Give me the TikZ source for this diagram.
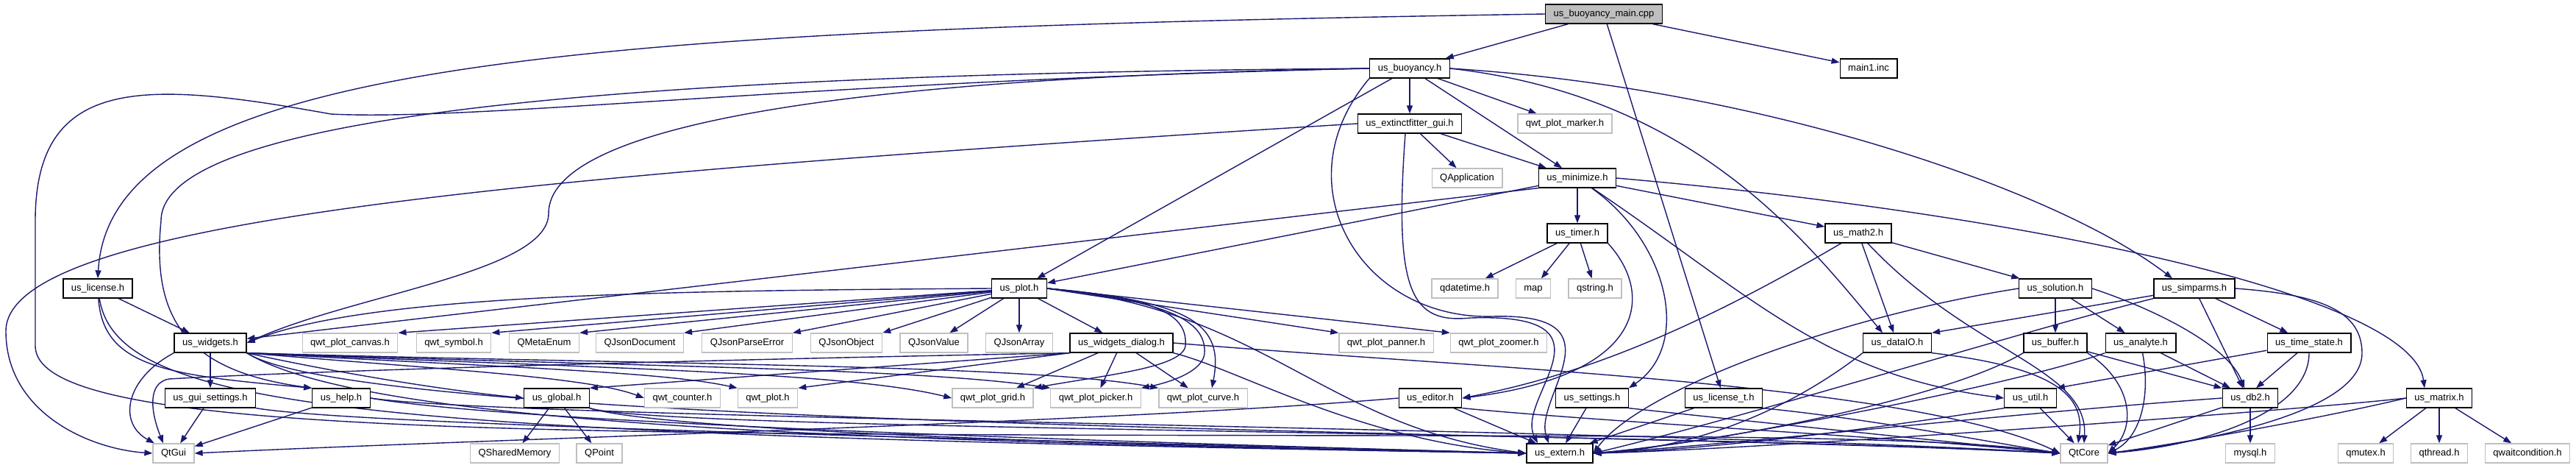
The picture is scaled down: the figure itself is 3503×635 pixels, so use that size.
\documentclass[tikz,border=0pt]{standalone}
\usepackage{fontspec}
\setmainfont{Liberation Sans}
\usepackage{xcolor}
\definecolor{edgeblue}{RGB}{25,25,112}
\definecolor{grey75}{RGB}{191,191,191}
\usepackage{tikz}
\usetikzlibrary{arrows.meta}
\pgfdeclarelayer{background}
\pgfsetlayers{background,main}

\begin{document}
\begin{tikzpicture}[
  x=1pt, y=-1pt,
  doc/.style={rectangle, draw=black, line width=1.3pt, fill=white, minimum height=26pt, inner xsep=11pt, inner ysep=0pt, text height=9.5pt, text depth=2.8pt, font=\fontsize{13}{15}\selectfont},
  ext/.style={doc, draw=grey75},
  root/.style={doc, fill=grey75},
  flow/.style={-{Triangle[length=11pt,width=8pt]}, line width=1.4pt, draw=edgeblue}
]
\useasboundingbox (0,0) rectangle (3503,635);

% Nodes
\node[root] (main) at (2181,19) {us\_buoyancy\_main.cpp};
\node[doc] (buoy) at (1917,93) {us\_buoyancy.h};
\node[doc] (maininc) at (2541,93) {main1.inc};
\node[doc] (fitter) at (1917,168) {us\_extinctfitter\_gui.h};
\node[ext] (marker) at (2128,168) {qwt\_plot\_marker.h};
\node[ext] (qapp) at (1995,242) {QApplication};
\node[doc] (minimize) at (2145,242) {us\_minimize.h};
\node[doc] (timer) at (2145,317) {us\_timer.h};
\node[doc] (math2) at (2527,317) {us\_math2.h};
\node[doc] (license) at (133,392) {us\_license.h};
\node[doc] (plot) at (1386,392) {us\_plot.h};
\node[ext] (qdatetime) at (1992,392) {qdatetime.h};
\node[ext] (map) at (2085,392) {map};
\node[ext] (qstring) at (2169,392) {qstring.h};
\node[doc] (solution) at (2795,392) {us\_solution.h};
\node[doc] (simparms) at (2984,392) {us\_simparms.h};
\node[doc] (widgets) at (286,466) {us\_widgets.h};
\node[ext] (canvas) at (476,466) {qwt\_plot\_canvas.h};
\node[ext] (symbol) at (617,466) {qwt\_symbol.h};
\node[ext] (metaenum) at (740,466) {QMetaEnum};
\node[ext] (jsondoc) at (870,466) {QJsonDocument};
\node[ext] (jsonerr) at (1016,466) {QJsonParseError};
\node[ext] (jsonobj) at (1151,466) {QJsonObject};
\node[ext] (jsonval) at (1270,466) {QJsonValue};
\node[ext] (jsonarr) at (1386,466) {QJsonArray};
\node[doc] (wdialog) at (1525,466) {us\_widgets\_dialog.h};
\node[ext] (panner) at (1885,466) {qwt\_plot\_panner.h};
\node[ext] (zoomer) at (2038,466) {qwt\_plot\_zoomer.h};
\node[doc] (dataio) at (2580,466) {us\_dataIO.h};
\node[doc] (buffer) at (2795,466) {us\_buffer.h};
\node[doc] (analyte) at (2911,466) {us\_analyte.h};
\node[doc] (timestate) at (3140,466) {us\_time\_state.h};
\node[doc] (guiset) at (286,541) {us\_gui\_settings.h};
\node[doc] (help) at (464,541) {us\_help.h};
\node[doc] (global) at (757,541) {us\_global.h};
\node[ext] (counter) at (928,541) {qwt\_counter.h};
\node[ext] (qwtplot) at (1044,541) {qwt\_plot.h};
\node[ext] (grid) at (1350,541) {qwt\_plot\_grid.h};
\node[ext] (picker) at (1490,541) {qwt\_plot\_picker.h};
\node[ext] (curve) at (1636,541) {qwt\_plot\_curve.h};
\node[doc] (editor) at (1945,541) {us\_editor.h};
\node[doc] (settings) at (2165,541) {us\_settings.h};
\node[doc] (licenset) at (2344,541) {us\_license\_t.h};
\node[doc] (util) at (2761,541) {us\_util.h};
\node[doc] (db2) at (3060,541) {us\_db2.h};
\node[doc] (matrix) at (3317,541) {us\_matrix.h};
\node[ext] (qtgui) at (236,616) {QtGui};
\node[ext] (shmem) at (700,616) {QSharedMemory};
\node[ext] (qpoint) at (815,616) {QPoint};
\node[doc] (extern) at (2121,616) {us\_extern.h};
\node[ext] (qtcore) at (2834,616) {QtCore};
\node[ext] (mysql) at (3060,616) {mysql.h};
\node[ext] (qmutex) at (3217,616) {qmutex.h};
\node[ext] (qthread) at (3317,616) {qthread.h};
\node[ext] (qwait) at (3437,616) {qwaitcondition.h};

\begin{pgfonlayer}{background}
% Flows: us_buoyancy_main.cpp
\draw[flow] (main) -- (buoy);
\draw[flow] (main) -- (maininc);
\draw[flow] (main) -- (licenset);
\draw[flow] (main.west) .. controls (800,40) and (150,80) .. (license.north);

% Flows: us_buoyancy.h
\draw[flow] (buoy) -- (fitter);
\draw[flow] (buoy) -- (marker);
\draw[flow] (buoy) -- (minimize);
\draw[flow] (buoy) -- (plot);
\draw[flow] (buoy.west) .. controls (1150,105) and (746,170) .. (746,290) .. controls (746,370) and (480,400) .. (widgets.east);
\draw[flow] (buoy.west) .. controls (900,100) and (219,150) .. (219,300) .. controls (205,440) and (260,505) .. (help.north west);
\draw[flow] (buoy.west) .. controls (1100,110) and (650,165) .. (450,155) .. controls (200,110) and (48,100) .. (48,300) -- (48,470) .. controls (48,560) and (400,585) .. (1200,590) .. controls (2000,595) and (2600,585) .. (qtcore.west);
\draw[flow] (buoy.south west) .. controls (1740,250) and (1850,435) .. (2030,430) .. controls (2210,425) and (2085,540) .. ([xshift=-15pt]extern.north);
\draw[flow] (buoy.east) .. controls (2400,120) and (2800,260) .. ([xshift=-30pt]simparms.north);
\draw[flow] (buoy.east) .. controls (2300,130) and (2450,320) .. ([xshift=-20pt]dataio.north);

% Flows: us_extinctfitter_gui.h
\draw[flow] (fitter) -- (qapp);
\draw[flow] (fitter) -- (minimize);
\draw[flow] (fitter.west) .. controls (700,240) and (8,300) .. (8,450) .. controls (8,560) and (120,610) .. (qtgui.west);
\draw[flow] ([xshift=-6pt]fitter.south) .. controls (1895,400) and (1920,440) .. (2000,432) .. controls (2210,425) and (2060,540) .. ([xshift=-30pt]extern.north);

% Flows: us_minimize.h
\draw[flow] (minimize) -- (timer);
\draw[flow] (minimize) -- (plot);
\draw[flow] (minimize.south west) -- (widgets);
\draw[flow] (minimize) -- (math2);
\draw[flow] (minimize.east) .. controls (2750,290) and (3280,400) .. ([xshift=-20pt]matrix.north);
\draw[flow] (minimize) .. controls (2270,330) and (2300,470) .. (settings.north east);
\draw[flow] (minimize) .. controls (2380,400) and (2480,510) .. (util.west);

% Flows: us_timer.h
\draw[flow] (timer) -- (qdatetime);
\draw[flow] (timer) -- (map);
\draw[flow] (timer) -- (qstring);
\draw[flow] (timer.south east) .. controls (2250,400) and (2240,510) .. (editor.east);

% Flows: us_math2.h
\draw[flow] (math2) -- (solution);
\draw[flow] (math2) -- (dataio);
\draw[flow] (math2) .. controls (2680,480) and (2840,500) .. (qtcore.north);
\draw[flow] (math2) .. controls (2300,450) and (2150,510) .. (editor.east);

% Flows: us_plot.h
\draw[flow] (plot) -- (canvas.north east);
\draw[flow] (plot) -- (symbol.north east);
\draw[flow] (plot) -- (metaenum.north east);
\draw[flow] (plot) -- (jsondoc.north east);
\draw[flow] (plot) -- (jsonerr.north east);
\draw[flow] (plot) -- (jsonobj.north east);
\draw[flow] (plot.west) .. controls (900,395) and (500,400) .. (widgets.east);
\draw[flow] (plot) -- (jsonval);
\draw[flow] (plot) -- (jsonarr);
\draw[flow] (plot) -- (wdialog);
\draw[flow] (plot.east) .. controls (1580,405) and (1615,430) .. (1612,470) .. controls (1608,500) and (1500,510) .. (grid.north east);
\draw[flow] (plot.east) .. controls (1600,410) and (1640,440) .. (1638,480) .. controls (1636,505) and (1590,520) .. (picker.north east);
\draw[flow] (plot.east) .. controls (1620,410) and (1665,440) .. ([xshift=12pt]curve.north);
\draw[flow] (plot.east) -- (panner.north west);
\draw[flow] (plot.east) -- (zoomer.north west);
\draw[flow] (plot.east) .. controls (1720,420) and (1800,580) .. (extern.west);

% Flows: us_widgets_dialog.h
\draw[flow] (wdialog) -- (grid);
\draw[flow] (wdialog) -- (picker);
\draw[flow] (wdialog) -- (curve);
\draw[flow] (wdialog.south west) -- (global.north east);
\draw[flow] (wdialog.south west) -- (qwtplot.north east);
\draw[flow] (wdialog.south west) .. controls (900,490) and (400,505) .. (230,515) .. controls (200,520) and (205,560) .. ([xshift=-14pt]qtgui.north);
\draw[flow] (wdialog.south east) .. controls (1680,500) and (1850,600) .. (extern.west);
\draw[flow] (wdialog.east) .. controls (2000,500) and (2600,520) .. (qtcore.west);

% Flows: us_widgets.h
\draw[flow] (widgets) -- (guiset);
\draw[flow] (widgets.south west) .. controls (170,515) and (160,575) .. ([xshift=-26pt]qtgui.north);
\draw[flow] (widgets.south east) .. controls (450,505) and (600,530) .. (global.west);
\draw[flow] (widgets.south east) .. controls (600,502) and (800,512) .. (counter.west);
\draw[flow] (widgets.south east) .. controls (700,500) and (900,505) .. (qwtplot.north west);
\draw[flow] (widgets.south east) .. controls (800,500) and (1150,505) .. (grid.west);
\draw[flow] (widgets.south east) .. controls (850,498) and (1250,500) .. (picker.north west);
\draw[flow] (widgets.south east) .. controls (900,496) and (1400,495) .. (curve.north west);
\draw[flow] (widgets.south east) .. controls (500,580) and (1200,600) .. (extern.west);
\draw[flow] (widgets.south east) .. controls (500,585) and (2200,585) .. (qtcore.west);

% Flows: us_license.h
\draw[flow] (license) -- (widgets);
\draw[flow] (license) .. controls (140,500) and (230,510) .. (help.north west);
\draw[flow] (license) .. controls (160,560) and (500,590) .. (extern.west);

% Flows: us_gui_settings.h, us_help.h, us_global.h
\draw[flow] (guiset) -- (qtgui);
\draw[flow] (guiset.south east) .. controls (500,580) and (1500,600) .. (extern.west);
\draw[flow] (help) -- (qtgui);
\draw[flow] (help.east) .. controls (700,575) and (1500,600) .. (extern.west);
\draw[flow] (help.east) .. controls (700,570) and (2200,580) .. (qtcore.west);
\draw[flow] (global) -- (shmem);
\draw[flow] (global) -- (qpoint);
\draw[flow] (global.south east) .. controls (900,585) and (1500,605) .. (extern.west);
\draw[flow] (global.south east) .. controls (900,585) and (2200,585) .. (qtcore.west);

% Flows: us_editor.h, us_settings.h, us_license_t.h
\draw[flow] (editor.west) .. controls (1500,575) and (700,595) .. (qtgui.east);
\draw[flow] (editor) -- (extern);
\draw[flow] (editor.south east) .. controls (2200,575) and (2600,595) .. (qtcore.west);
\draw[flow] (settings) -- (extern);
\draw[flow] (settings.south east) .. controls (2400,575) and (2650,600) .. (qtcore.west);
\draw[flow] (licenset) -- (extern);
\draw[flow] (licenset.south east) .. controls (2550,570) and (2700,600) .. (qtcore.west);

% Flows: us_dataIO.h, us_solution.h, us_simparms.h
\draw[flow] (dataio.south west) .. controls (2430,560) and (2300,610) .. (extern.east);
\draw[flow] (dataio.south east) .. controls (2800,500) and (2835,540) .. ([xshift=-8pt]qtcore.north);
\draw[flow] (solution) -- (buffer);
\draw[flow] (solution) -- (analyte);
\draw[flow] (solution.east) .. controls (2930,420) and (3030,470) .. ([xshift=-8pt]db2.north);
\draw[flow] (solution.west) .. controls (2500,430) and (2230,530) .. (extern.east);
\draw[flow] (simparms) -- (dataio.north east);
\draw[flow] (simparms.south west) .. controls (2750,450) and (2400,560) .. (extern.east);
\draw[flow] (simparms) -- ([xshift=-10pt]db2.north);
\draw[flow] (simparms) -- (timestate);
\draw[flow] (simparms.east) .. controls (3150,400) and (3212,420) .. (3212,480) .. controls (3212,560) and (3000,600) .. (qtcore.east);

% Flows: us_buffer.h, us_analyte.h, us_time_state.h
\draw[flow] (buffer) -- (db2.north west);
\draw[flow] (buffer.south east) .. controls (2900,520) and (2905,580) .. (qtcore.east);
\draw[flow] (buffer.south west) .. controls (2650,540) and (2350,600) .. (extern.east);
\draw[flow] (analyte) -- (db2);
\draw[flow] (analyte) .. controls (2925,540) and (2910,595) .. (qtcore.east);
\draw[flow] (analyte.south west) .. controls (2750,520) and (2350,600) .. (extern.east);
\draw[flow] (timestate) -- (util.north east);
\draw[flow] (timestate) -- ([xshift=8pt]db2.north);
\draw[flow] (timestate) .. controls (3140,560) and (3000,605) .. (qtcore.east);

% Flows: us_util.h, us_db2.h, us_matrix.h
\draw[flow] (util) -- (qtcore);
\draw[flow] (util.south west) .. controls (2600,575) and (2350,610) .. (extern.east);
\draw[flow] (db2) -- (mysql);
\draw[flow] (db2) -- (qtcore);
\draw[flow] (db2.west) .. controls (2750,560) and (2350,605) .. (extern.east);
\draw[flow] (matrix) -- (qmutex);
\draw[flow] (matrix) -- (qthread);
\draw[flow] (matrix) -- (qwait);
\draw[flow] (matrix.west) .. controls (3150,570) and (2950,605) .. (qtcore.east);
\draw[flow] (matrix.west) .. controls (3100,560) and (2400,610) .. (extern.east);
\end{pgfonlayer}

\end{tikzpicture}
\end{document}
